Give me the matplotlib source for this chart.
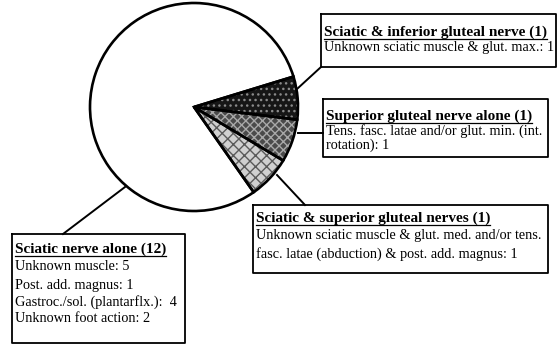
import matplotlib
matplotlib.use('Agg')
import matplotlib.pyplot as plt

# counts per nerve group, drawn clockwise from the dark wedge
groups = ['Sciatic & inferior gluteal nerve', 'Superior gluteal nerve alone',
          'Sciatic & superior gluteal nerves', 'Sciatic nerve alone']
counts = [1, 1, 1, 12]

details = [
    ['Unknown sciatic muscle & glut. max.: 1'],
    ['Tens. fasc. latae and/or glut. min. (int.', 'rotation): 1'],
    ['Unknown sciatic muscle & glut. med. and/or tens.',
     'fasc. latae (abduction) & post. add. magnus: 1'],
    ['Unknown muscle: 5', 'Post. add. magnus: 1',
     'Gastroc./sol. (plantarflx.):  4', 'Unknown foot action: 2'],
]

faces = ['#161616', '#4a4a4a', '#d0d0d0', 'white']
hatches = ['...', 'xxxx', 'xxx', '']
hcols = ['#8a8a8a', '#a8a8a8', '#5a5a5a', 'white']

fig = plt.figure(figsize=(5.58, 3.45), dpi=100)
ax = fig.add_axes([0, 0, 1, 1])

# pie in pixel space (y pointing down)
cx, cy, r = 194, 107, 104
w1, _ = ax.pie(counts, colors=faces, startangle=-17, center=(cx, cy), radius=r,
               frame=True, wedgeprops=dict(linewidth=0))
for w, h, c in zip(w1, hatches, hcols):
    w.set_hatch(h)
    w.set_edgecolor(c)
ax.pie(counts, colors=['none'] * 4, startangle=-17, center=(cx, cy), radius=r,
       frame=True, wedgeprops=dict(linewidth=1.9, edgecolor='black'))

ax.set_xlim(0, 558)
ax.set_ylim(345, 0)
ax.set_aspect('auto')
ax.axis('off')

# boxes: left, top, right, bottom
boxes = [(321, 14, 556, 67), (323, 99, 548, 157), (253, 205, 548, 273), (12, 234, 185, 343)]
line_y = [[32, 47], [116, 131, 145], [218, 236, 254], [249, 267, 285, 302, 318]]
leaders = [((297, 89), (321, 67)), ((298, 133), (323, 133)),
           ((277, 175), (305, 205)), ((125, 187), (63, 234))]

fs = 10.3
font = 'Liberation Serif'
titles = []
for i, g in enumerate(groups):
    l, t, rr, b = boxes[i]
    ax.plot([l, rr, rr, l, l], [t, t, b, b, t], color='black', lw=1.3)
    (x0, y0), (x1, y1) = leaders[i]
    ax.plot([x0, x1], [y0, y1], color='black', lw=1.4)
    ys = line_y[i]
    tt = ax.text(l + 3, ys[0], f'{g} ({counts[i]})', fontsize=11, family=font,
                 fontweight='bold', va='center', ha='left')
    titles.append((tt, l + 3, ys[0]))
    for s, y in zip(details[i], ys[1:]):
        ax.text(l + 3, y, s, fontsize=fs, family=font, va='center', ha='left')

# underline the titles
fig.canvas.draw()
ren = fig.canvas.get_renderer()
inv = ax.transData.inverted()
for tt, x, y in titles:
    bb = tt.get_window_extent(ren)
    xr = inv.transform((bb.x1, bb.y0))[0]
    ax.plot([x, xr], [y + 7, y + 7], color='black', lw=0.9)

fig.savefig('out.png', dpi=100)
